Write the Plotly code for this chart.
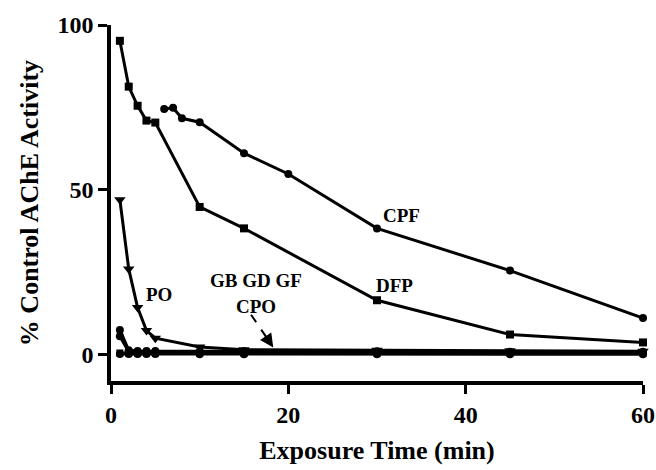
import plotly.graph_objects as go

# ---- data ----
cpf_x = [6, 7, 8, 10, 15, 20, 30, 45, 60]
cpf_y = [74.5, 74.9, 71.7, 70.5, 61.1, 54.8, 38.3, 25.5, 11.1]

dfp_x = [1, 2, 3, 4, 5, 10, 15, 30, 45, 60]
dfp_y = [95.2, 81.3, 75.5, 71.0, 70.4, 44.8, 38.3, 16.5, 6.1, 3.7]

po_x = [1, 2, 3, 4, 5, 10, 15, 30, 45, 60]
po_y = [47.0, 26.0, 14.3, 7.3, 5.0, 2.3, 1.5, 1.3, 1.2, 1.0]

low_x = [1, 2, 3, 4, 5, 10, 15, 30, 45, 60]
gb_y = [7.5, 1.3, 1.1, 1.1, 1.1, 1.0, 1.0, 1.0, 0.9, 0.9]
gd_y = [5.6, 0.9, 0.8, 0.8, 0.8, 0.7, 0.7, 0.7, 0.6, 0.6]
gf_y = [0.5, 0.5, 0.5, 0.5, 0.5, 0.4, 0.4, 0.4, 0.4, 0.4]
cpo_y = [0.2, 0.2, 0.2, 0.2, 0.2, 0.1, 0.1, 0.1, 0.1, 0.1]

x_ticks = [0, 20, 40, 60]
y_ticks = [0, 50, 100]

FONT = "Liberation Serif"

fig = go.Figure()

def add(x, y, sym, size=8):
    fig.add_trace(go.Scatter(
        x=x, y=y, mode="lines+markers",
        line=dict(color="black", width=3),
        marker=dict(symbol=sym, size=size, color="black"),
        showlegend=False, hoverinfo="skip", cliponaxis=False))

add(low_x, cpo_y, "circle", 8)
add(low_x, gf_y, "square", 7)
add(low_x, gd_y, "circle", 8)
add(low_x, gb_y, "circle", 8)
add(po_x, po_y, "triangle-down", 10)
add(dfp_x, dfp_y, "square", 8)
add(cpf_x, cpf_y, "circle", 8)

label_font = dict(family=FONT, size=19, color="black")
labels = [("CPF", 32.75, 42.2), ("DFP", 32.0, 20.9), ("PO", 5.4, 18.2),
          ("GB GD GF", 16.3, 22.5), ("CPO", 16.3, 14.5)]
for t, lx, ly in labels:
    fig.add_annotation(x=lx, y=ly, text="<b>" + t + "</b>", showarrow=False,
                       font=label_font)

# dashed arrow from CPO label to the bottom curves
arrow_tail = (15.8, 12.1)
arrow_tip = (18.3, 2.2)
fig.add_shape(type="line", x0=arrow_tail[0], y0=arrow_tail[1],
              x1=arrow_tail[0] + 0.7 * (arrow_tip[0] - arrow_tail[0]),
              y1=arrow_tail[1] + 0.7 * (arrow_tip[1] - arrow_tail[1]),
              line=dict(color="black", width=2, dash="dash"))
fig.add_annotation(x=arrow_tip[0], y=arrow_tip[1], text="", showarrow=True,
                   axref="x", ayref="y",
                   ax=arrow_tail[0] + 0.55 * (arrow_tip[0] - arrow_tail[0]),
                   ay=arrow_tail[1] + 0.55 * (arrow_tip[1] - arrow_tail[1]),
                   arrowhead=2, arrowsize=1.8, arrowwidth=1.5,
                   arrowcolor="black")

tickfont = dict(family=FONT, size=24, color="black")
titlefont = dict(family=FONT, size=26, color="black")

fig.update_layout(
    width=656, height=470,
    margin=dict(l=111, r=13, t=25, b=89),
    paper_bgcolor="white", plot_bgcolor="white",
    font=dict(family=FONT, color="black"),
)
fig.update_xaxes(
    range=[0, 60], tickvals=x_ticks, ticktext=["<b>%d</b>" % v for v in x_ticks],
    showline=True, linecolor="black", linewidth=3.5, showgrid=False, zeroline=False,
    ticks="outside", ticklen=9, tickwidth=3, tickcolor="black",
    tickfont=tickfont, automargin=False,
    title=dict(text="<b>Exposure Time (min)</b>", standoff=15, font=titlefont),
)
fig.update_yaxes(
    range=[-8, 100], tickvals=y_ticks, ticktext=["<b>%d</b>" % v for v in y_ticks],
    showline=True, linecolor="black", linewidth=3.5, showgrid=False, zeroline=False,
    ticks="outside", ticklen=9, tickwidth=3, tickcolor="black",
    tickfont=tickfont, automargin=False,
    title=dict(text="<b>% Control AChE Activity</b>", standoff=12, font=titlefont),
)

fig.write_html("out.html")
